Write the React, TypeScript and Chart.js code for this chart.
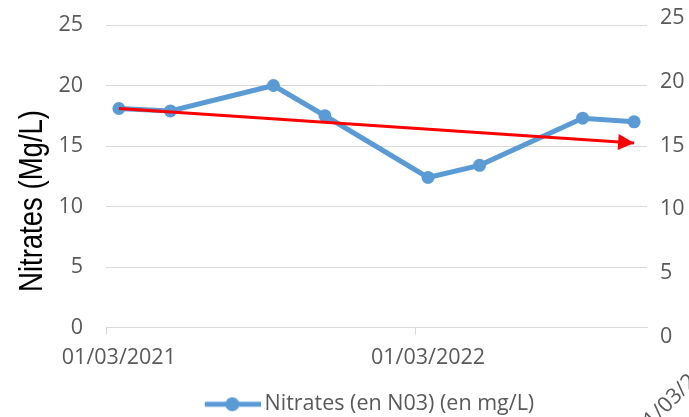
import React, { useEffect, useRef } from "react";
import { Chart, registerables } from "chart.js";

Chart.register(...registerables);

// ---- data ----
const MONTHS: string[] = [
  "01/03/2021", "01/04/2021", "01/05/2021", "01/06/2021", "01/07/2021", "01/08/2021",
  "01/09/2021", "01/10/2021", "01/11/2021", "01/12/2021", "01/01/2022", "01/02/2022",
  "01/03/2022", "01/04/2022", "01/05/2022", "01/06/2022", "01/07/2022", "01/08/2022",
  "01/09/2022", "01/10/2022", "01/11/2022",
];
const TICK_LABELS: string[] = ["01/03/2021", "01/03/2022"];
const SAMPLE_DATES: string[] = [
  "01/03/2021", "01/05/2021", "01/09/2021", "01/11/2021",
  "01/03/2022", "01/05/2022", "01/09/2022", "01/11/2022",
];
const NITRATES: number[] = [18.1, 17.9, 20.0, 17.5, 12.4, 13.4, 17.3, 17.0];
const TREND_DATES: string[] = ["01/03/2021", "01/11/2022"];
const TREND_VALUES: number[] = [18.1, 15.25];
const Y_TICKS: number[] = [0, 5, 10, 15, 20, 25];
const SERIES_LABEL = "Nitrates (en N03) (en mg/L)";
const Y_TITLE = "Nitrates (Mg/L)";
const SECONDARY_LABEL = "01/03/2023";

const BLUE = "#5B9BD5";
const RED = "#FF0000";
const GRID = "#D9D9D9";
const TEXT = "#595959";
const FONT = "'Open Sans', sans-serif";

export default function App() {
  const ref = useRef<HTMLCanvasElement | null>(null);

  useEffect(() => {
    if (!ref.current) return;

    // legend marker: a line with a circle (left part transparent to place the item like the original)
    const marker = document.createElement("canvas");
    marker.width = 113;
    marker.height = 16;
    const mctx = marker.getContext("2d")!;
    mctx.strokeStyle = BLUE;
    mctx.lineWidth = 5;
    mctx.beginPath();
    mctx.moveTo(57, 8);
    mctx.lineTo(113, 8);
    mctx.stroke();
    mctx.fillStyle = BLUE;
    mctx.beginPath();
    mctx.arc(84.5, 8, 7, 0, Math.PI * 2);
    mctx.fill();

    const overlay = {
      id: "overlay",
      afterDatasetsDraw(chart: any) {
        const ctx = chart.ctx;
        const meta = chart.getDatasetMeta(1);
        const pts = meta.data;
        if (pts.length < 2) return;
        const a = pts[pts.length - 2];
        const b = pts[pts.length - 1];
        const ang = Math.atan2(b.y - a.y, b.x - a.x);
        const L = 16, W = 8;
        const c = Math.cos(ang), s = Math.sin(ang);
        ctx.save();
        ctx.fillStyle = RED;
        ctx.beginPath();
        ctx.moveTo(b.x, b.y);
        ctx.lineTo(b.x - L * c + W * s, b.y - L * s - W * c);
        ctx.lineTo(b.x - L * c - W * s, b.y - L * s + W * c);
        ctx.closePath();
        ctx.fill();
        ctx.restore();
      },
      afterDraw(chart: any) {
        const ctx = chart.ctx;
        const area = chart.chartArea;
        // y axis title
        ctx.save();
        ctx.translate(41.5, 201);
        ctx.rotate(-Math.PI / 2);
        ctx.font = "33px 'Liberation Sans', sans-serif";
        const w = ctx.measureText(Y_TITLE).width;
        ctx.scale(182 / w, 1);
        ctx.fillStyle = "#000000";
        ctx.textAlign = "center";
        ctx.textBaseline = "alphabetic";
        ctx.fillText(Y_TITLE, 0, 0);
        ctx.restore();
        // secondary axis label, rotated and cut by the page edge
        ctx.save();
        ctx.translate(area.right - 4, 437);
        ctx.rotate((-45 * Math.PI) / 180);
        ctx.font = "21.5px " + FONT;
        ctx.fillStyle = TEXT;
        ctx.textAlign = "left";
        ctx.textBaseline = "alphabetic";
        ctx.fillText(SECONDARY_LABEL, 0, 0);
        ctx.restore();
      },
    };

    const noPad = (s: any) => {
      s.paddingTop = 0;
      s.paddingBottom = 0;
    };

    const chart = new Chart(ref.current, {
      type: "line",
      data: {
        labels: MONTHS,
        datasets: [
          {
            label: SERIES_LABEL,
            data: SAMPLE_DATES.map((d, i) => ({ x: d, y: NITRATES[i] })),
            borderColor: BLUE,
            backgroundColor: BLUE,
            borderWidth: 5,
            pointRadius: 6.5,
            pointBorderWidth: 0,
            pointBackgroundColor: BLUE,
            tension: 0,
            order: 1,
            yAxisID: "y",
          },
          {
            label: "trend",
            data: TREND_DATES.map((d, i) => ({ x: d, y: TREND_VALUES[i] })),
            borderColor: RED,
            backgroundColor: RED,
            borderWidth: 3,
            pointRadius: 0,
            tension: 0,
            order: 0,
            yAxisID: "y",
          },
        ],
      } as any,
      options: {
        animation: false,
        responsive: true,
        maintainAspectRatio: false,
        layout: { padding: { top: 25, left: 0, right: 0, bottom: 0 } },
        plugins: {
          tooltip: { enabled: false },
          legend: {
            position: "bottom",
            labels: {
              usePointStyle: true,
              pointStyleWidth: 99,
              padding: 10,
              color: TEXT,
              font: { family: FONT, size: 21.5 },
              generateLabels: () => [
                {
                  text: SERIES_LABEL,
                  pointStyle: marker as any,
                  fillStyle: BLUE,
                  strokeStyle: BLUE,
                  lineWidth: 0,
                  fontColor: TEXT,
                  datasetIndex: 0,
                  hidden: false,
                } as any,
              ],
            },
          },
        },
        scales: {
          x: {
            type: "category",
            offset: true,
            afterFit: (s: any) => { s.height = 56; },
            border: { display: true, color: GRID, width: 1 },
            grid: {
              offset: true,
              drawOnChartArea: false,
              drawTicks: true,
              tickLength: 7,
              color: (c: any) =>
                c.index !== undefined && MONTHS[c.index] && TICK_LABELS.includes(MONTHS[c.index])
                  ? GRID
                  : "rgba(0,0,0,0)",
            },
            ticks: {
              autoSkip: false,
              maxRotation: 0,
              minRotation: 0,
              padding: 10,
              color: TEXT,
              font: { family: FONT, size: 21.5 },
              callback: (_v: any, i: number) => (TICK_LABELS.includes(MONTHS[i]) ? MONTHS[i] : ""),
            },
          },
          y: {
            position: "left",
            min: 0,
            max: 25,
            afterFit: (s: any) => { s.width = 106; noPad(s); },
            border: { display: false },
            grid: { color: GRID, lineWidth: 1, drawTicks: false },
            ticks: {
              stepSize: 5,
              padding: 23,
              color: TEXT,
              font: { family: FONT, size: 21.5 },
            },
          },
          y1: {
            position: "right",
            min: 0.705,
            max: 24.45,
            afterFit: (s: any) => { s.width = 42; noPad(s); },
            afterBuildTicks: (s: any) => { s.ticks = Y_TICKS.map((v) => ({ value: v })); },
            border: { display: false },
            grid: { display: false, drawTicks: false },
            ticks: {
              autoSkip: false,
              padding: 13,
              color: TEXT,
              font: { family: FONT, size: 21.5 },
            },
          },
        },
      } as any,
      plugins: [overlay],
    });

    return () => chart.destroy();
  }, []);

  return (
    <div style={{ position: "absolute", left: 0, top: 0, width: 689, height: 417, overflow: "hidden", background: "#fff" }}>
      <div style={{ position: "relative", width: 689, height: 425 }}>
        <canvas ref={ref} />
      </div>
    </div>
  );
}
